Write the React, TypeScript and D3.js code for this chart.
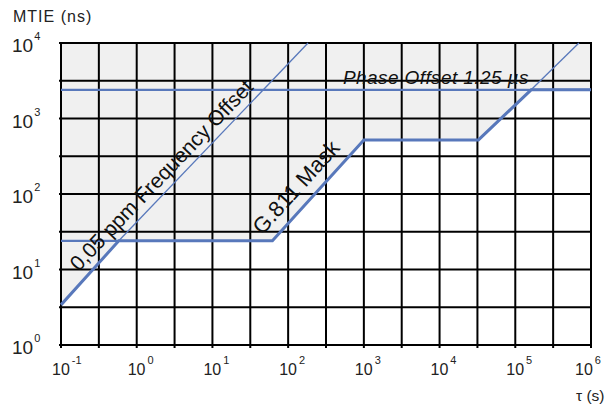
import React from "react";
import * as d3 from "d3";

// ---- data ----
const decadesX = [-1, 0, 1, 2, 3, 4, 5, 6];
const decadesY = [0, 1, 2, 3, 4];

// G.811 mask (tau in s, MTIE in ns)
const maskTau = [0.1, 0.58, 62, 1000, 32600, 162000, 1e6];
const maskMtie = [3.4, 24, 24, 520, 520, 2400, 2400];

// 0.05 ppm frequency offset line (thin extension)
const freqTau = [0.58, 183];
const freqMtie = [24, 10000];

// 25 ns level left of mask junction
const levelTau = [0.1, 0.58];
const levelMtie = [24, 24];

// phase offset line
const phaseTau = [0.1, 1e6];
const phaseMtie = [2400, 2400];

// right thin extension
const extTau = [162000, 692000];
const extMtie = [2400, 10000];

const W = 605;
const H = 405;
const FONT = "'Liberation Sans', Arial, Helvetica, sans-serif";
const BLUE = "#5878bb";

export default function App() {
  const x = d3.scaleLog().domain([0.1, 1e6]).range([61, 591]);
  const y = d3.scaleLog().domain([1, 1e4]).range([345, 43]);

  const line = d3
    .line<[number, number]>()
    .x((d) => x(d[0]))
    .y((d) => y(d[1]));

  const zip = (a: number[], b: number[]) => a.map((v, i) => [v, b[i]] as [number, number]);

  const maskPts = zip(maskTau, maskMtie);
  const areaPts: [number, number][] = [...maskPts, [1e6, 1e4], [0.1, 1e4]];

  const halfX: number[] = [];
  for (let k = -1; k <= 6; k += 0.5) halfX.push(Math.pow(10, k));
  const halfY: number[] = [];
  for (let k = 0; k <= 4; k += 0.5) halfY.push(Math.pow(10, k));

  const ang = (t: number[], m: number[]) =>
    (Math.atan2(y(m[1]) - y(m[0]), x(t[1]) - x(t[0])) * 180) / Math.PI;
  const freqAng = ang(freqTau, freqMtie);
  const maskAng = ang([maskTau[2], maskTau[3]], [maskMtie[2], maskMtie[3]]);

  return (
    <svg
      width={W}
      height={H}
      style={{ position: "absolute", left: 0, top: 0, background: "#fff" }}
      fontFamily={FONT}
    >
      <path d={line(areaPts) + "Z"} fill="#f0f0f0" stroke="none" />

      {/* grid */}
      {halfX.map((v, i) => (
        <line key={"gx" + i} x1={x(v)} x2={x(v)} y1={y(1e4)} y2={y(1) + 3} stroke="#000" strokeWidth={2} />
      ))}
      {halfY.map((v, i) => (
        <line key={"gy" + i} x1={x(0.1) - 2} x2={x(1e6) + 1} y1={y(v)} y2={y(v)} stroke="#000" strokeWidth={2} />
      ))}

      {/* lines */}
      <path d={line(zip(phaseTau, phaseMtie)) || ""} fill="none" stroke={BLUE} strokeWidth={2.2} />
      <path d={line(zip(levelTau, levelMtie)) || ""} fill="none" stroke={BLUE} strokeWidth={2.2} />
      <path d={line(zip(freqTau, freqMtie)) || ""} fill="none" stroke={BLUE} strokeWidth={1.3} />
      <path d={line(zip(extTau, extMtie)) || ""} fill="none" stroke={BLUE} strokeWidth={1.3} />
      <path d={line(maskPts) || ""} fill="none" stroke={BLUE} strokeWidth={3} strokeLinejoin="miter" />

      {/* annotations */}
      <text x={343} y={84} fontSize={19} letterSpacing={0.4} fontStyle="italic" fill="#111">
        Phase Offset 1.25 µs
      </text>
      <text
        transform={`translate(${x(maskTau[0])},${y(maskMtie[0])}) rotate(${freqAng})`}
        x={36}
        y={-10}
        fontSize={21}
        fill="#111"
      >
        0,05 ppm Frequency Offset
      </text>
      <text
        transform={`translate(${x(maskTau[2])},${y(maskMtie[2])}) rotate(${maskAng})`}
        x={-3}
        y={-11}
        fontSize={22}
        fill="#111"
      >
        G.811 Mask
      </text>

      {/* y labels */}
      {decadesY.map((k) => (
        <text key={"yl" + k} x={12} y={y(Math.pow(10, k)) + 9} fontSize={19} fill="#222">
          10
          <tspan dx={1} dy={-12} fontSize={11}>
            {k}
          </tspan>
        </text>
      ))}
      {/* x labels */}
      {decadesX.map((k) => (
        <text key={"xl" + k} x={Math.min(x(Math.pow(10, k)) - 9, 575)} y={375} fontSize={16} fill="#222">
          10
          <tspan dx={2} dy={-11} fontSize={11}>
            {k}
          </tspan>
        </text>
      ))}

      <text x={13} y={22} fontSize={16} letterSpacing={1} fill="#222">
        MTIE (ns)
      </text>
      <text x={576} y={401} fontSize={15.5} fill="#222">
        τ (s)
      </text>
    </svg>
  );
}
